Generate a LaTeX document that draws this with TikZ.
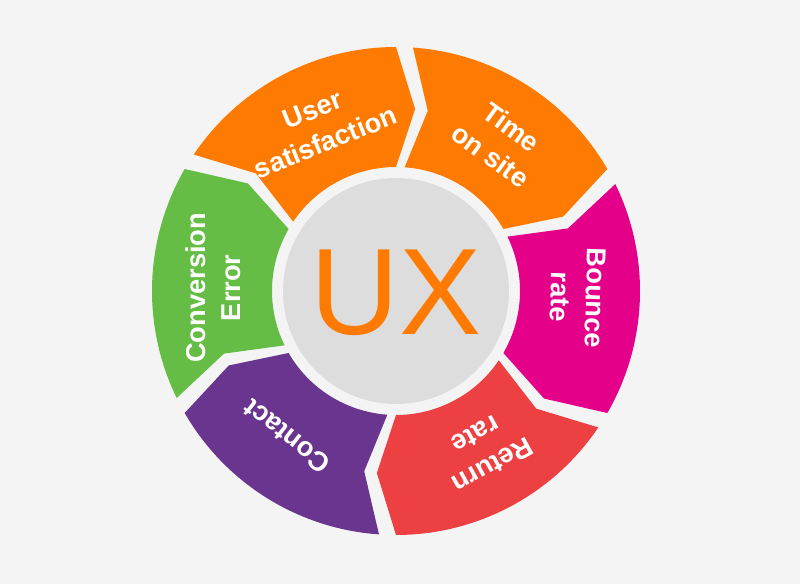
\documentclass[tikz,border=0pt]{standalone}
\usepackage{fontspec}
\setmainfont{Liberation Sans}
\usetikzlibrary{positioning}
\definecolor{bgcol}{HTML}{F4F4F4}
\definecolor{uxorange}{HTML}{FF7A00}
\definecolor{uxpink}{HTML}{E5008A}
\definecolor{uxred}{HTML}{EC4043}
\definecolor{uxpurple}{HTML}{6A358F}
\definecolor{uxgreen}{HTML}{66BD45}
\definecolor{hubgray}{HTML}{DDDDDD}
\tikzset{
  seglabel/.style={text=white, font=\bfseries\fontsize{15.5}{20}\selectfont, align=center, inner sep=1pt},
}
\begin{document}
\begin{tikzpicture}[x=0.02cm,y=0.02cm]
        % Background
        \fill[bgcol] (-396,-293) rectangle (404,291);
        \useasboundingbox (-396,-293) rectangle (404,291);

        % Segments
        \foreach \s/\e/\c in {148/88/uxorange, 88/28/uxorange, 28/-32/uxpink, -32/-92/uxred, -92/-152/uxpurple, -152/-212/uxgreen}
          \fill[\c] (\s-2:244) arc[start angle=\s-2, end angle=\e+2, radius=244]
            -- (\e-4:183) -- (\e+2:124) arc[start angle=\e+2, end angle=\s-2, radius=124]
            -- (\s-8:183) -- cycle;

        % Hub
        \fill[hubgray] (0,0) circle (113);
        \node[text=uxorange, font=\fontsize{70}{70}\selectfont] (ux) at (0,-2) {UX};

        % Labels
        \node[seglabel, rotate=22] (sat) at (115:182) {User\\satisfaction};
        \node[seglabel, rotate=-36] (time) at (55:183) {Time\\on site};
        \node[seglabel, rotate=-92] (bounce) at (-2:182) {Bounce\\rate};
        \node[seglabel, rotate=-151] (return) at (-61:182) {Return\\rate};
        \node[seglabel, rotate=-218] (contact) at (-127:182) {Contact};
        \node[seglabel, rotate=90] (conv) at (179:183) {Conversion\\Error};
\end{tikzpicture}
\end{document}
